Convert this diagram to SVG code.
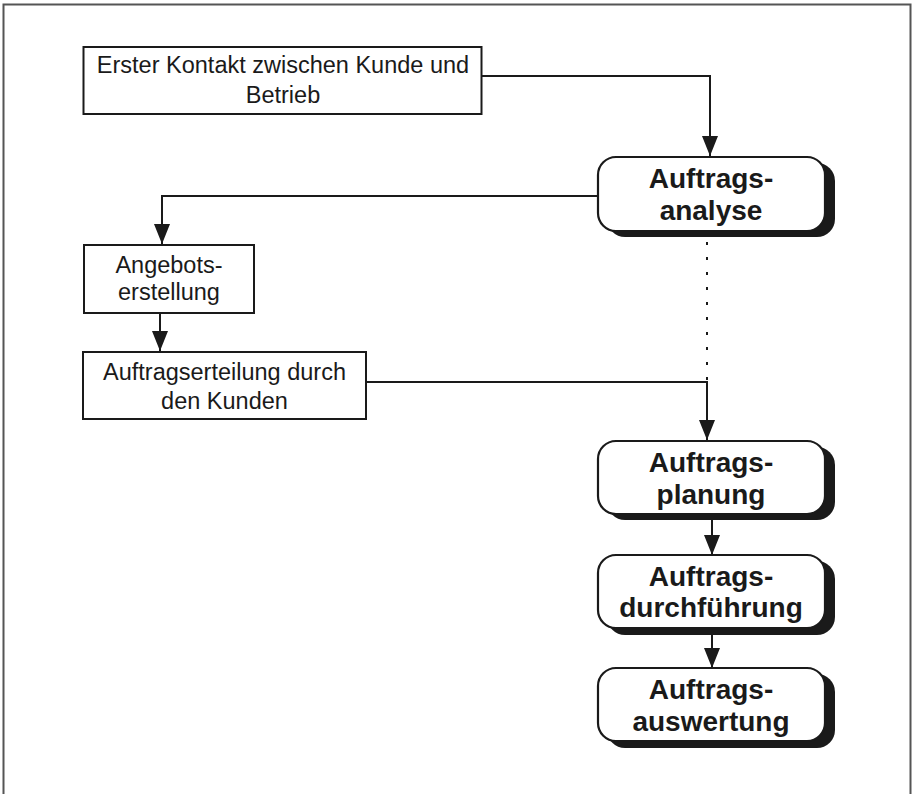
<svg xmlns="http://www.w3.org/2000/svg" width="916" height="794" viewBox="0 0 916 794">
<defs>
<style>
.box{fill:#fff;stroke:#1a1a1a;stroke-width:2}
.rbox{fill:#fff;stroke:#1a1a1a;stroke-width:2.2}
.shadow{fill:#1a1a1a}
.t{font-family:"Liberation Sans",Arial,sans-serif;font-size:23.5px;fill:#1a1a1a;text-anchor:middle}
.b{font-family:"Liberation Sans",Arial,sans-serif;font-size:28px;font-weight:bold;fill:#1a1a1a;text-anchor:middle}
.c{fill:none;stroke:#1a1a1a;stroke-width:2}
.d{fill:none;stroke:#1a1a1a;stroke-width:2;stroke-dasharray:3 12}
</style>
<marker id="ah" viewBox="0 0 20 16" refX="20" refY="8" markerWidth="20" markerHeight="16" markerUnits="userSpaceOnUse" orient="auto">
<path d="M0,0 L20,8 L0,16 Z" fill="#1a1a1a"/>
</marker>
</defs>
<path d="M3.5,794 V4.5 H910.5 V794" fill="none" stroke="#555" stroke-width="2"/>
<g id="connectors">
<path class="c" d="M482,76 H710 V156" marker-end="url(#ah)"/>
<path class="c" d="M598,196 H162 V244" marker-end="url(#ah)"/>
<path class="c" d="M160,313 V351" marker-end="url(#ah)"/>
<path class="d" d="M707,242 V380"/>
<path class="c" d="M366,382 H707 V440" marker-end="url(#ah)"/>
<path class="c" d="M712,520 V555" marker-end="url(#ah)"/>
<path class="c" d="M712,635 V668" marker-end="url(#ah)"/>
</g>
<g id="n1">
<rect class="box" x="83.5" y="47" width="398" height="67"/>
<text class="t" x="283" y="73">Erster Kontakt zwischen Kunde und</text>
<text class="t" x="283" y="103">Betrieb</text>
</g>
<g id="n2">
<rect class="shadow" x="607" y="163" width="228" height="74" rx="18"/>
<rect class="rbox" x="598" y="157" width="227" height="74" rx="18"/>
<text class="b" x="711" y="188">Auftrags-</text>
<text class="b" x="711" y="220">analyse</text>
</g>
<g id="n3">
<rect class="box" x="84" y="245" width="170" height="68"/>
<text class="t" x="169" y="273">Angebots-</text>
<text class="t" x="169" y="300">erstellung</text>
</g>
<g id="n4">
<rect class="box" x="83" y="352" width="283" height="67"/>
<text class="t" x="224.5" y="380">Auftragserteilung durch</text>
<text class="t" x="224.5" y="409">den Kunden</text>
</g>
<g id="n5">
<rect class="shadow" x="607" y="447" width="228" height="73" rx="18"/>
<rect class="rbox" x="598" y="441" width="227" height="73" rx="18"/>
<text class="b" x="711" y="472">Auftrags-</text>
<text class="b" x="711" y="504">planung</text>
</g>
<g id="n6">
<rect class="shadow" x="607" y="561" width="228" height="74" rx="18"/>
<rect class="rbox" x="598" y="555" width="227" height="73" rx="18"/>
<text class="b" x="711" y="586">Auftrags-</text>
<text class="b" x="711" y="617">durchführung</text>
</g>
<g id="n7">
<rect class="shadow" x="607" y="674" width="228" height="74" rx="18"/>
<rect class="rbox" x="598" y="668" width="227" height="73" rx="18"/>
<text class="b" x="711" y="699">Auftrags-</text>
<text class="b" x="711" y="731">auswertung</text>
</g>
</svg>
